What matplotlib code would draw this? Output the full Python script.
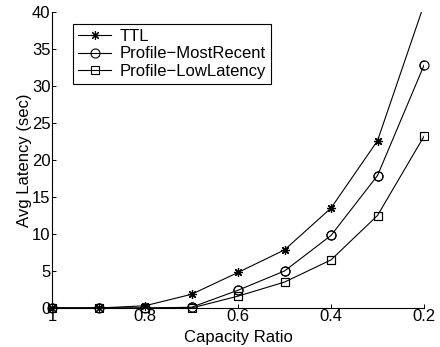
import matplotlib
matplotlib.use("Agg")
import matplotlib.pyplot as plt
import numpy as np

plt.rcParams['font.family'] = ['Liberation Sans', 'DejaVu Sans']

capacity = [1.0, 0.9, 0.8, 0.7, 0.6, 0.5, 0.4, 0.3, 0.2]
ttl = [0.0, 0.0, 0.3, 1.85, 4.8, 7.85, 13.5, 22.6, 41.0]
most_recent = [0.0, 0.0, 0.0, 0.1, 2.4, 5.0, 9.8, 17.9, 32.8]
low_latency = [0.0, 0.0, 0.0, 0.0, 1.6, 3.5, 6.5, 12.5, 23.2]
xticks = [1, 0.8, 0.6, 0.4, 0.2]
xticklabels = ['1', '0.8', '0.6', '0.4', '0.2']
yticks = [0, 5, 10, 15, 20, 25, 30, 35, 40]

fig = plt.figure(figsize=(4.4, 3.47), dpi=100)
ax = fig.add_axes([52/440, 1-308/347, 372/440, 296/347])

lw = 0.8
series = [
    (ttl, 'TTL', dict(marker=(8, 2, 0), ms=6.5, mew=0.8)),
    (most_recent, 'Profile\u2212MostRecent', dict(marker='o', ms=6.5, mfc='none', mew=0.8)),
    (low_latency, 'Profile\u2212LowLatency', dict(marker='s', ms=5.5, mfc='none', mew=0.8)),
]
for vals, lab, mk in series:
    ax.plot(capacity, vals, color='black', lw=lw, label=lab, **mk)
    v = np.array(vals, dtype=float)
    inside = v <= 40
    ax.plot(np.array(capacity)[inside], v[inside], color='black', ls='none',
            clip_on=False, zorder=3, **mk)

ax.set_xlim(1, 0.2)
ax.set_ylim(0, 40)
ax.set_xticks(xticks)
ax.set_xticklabels(xticklabels)
ax.set_yticks(yticks)
ax.spines['top'].set_visible(False)
ax.spines['right'].set_visible(False)
ax.tick_params(direction='in', length=3, labelsize=12, width=0.7, pad=1)
ax.set_xlabel('Capacity Ratio', fontsize=12, labelpad=4)
ax.set_ylabel('Avg Latency (sec)', fontsize=12, labelpad=0)

leg = ax.legend(loc='upper left', bbox_to_anchor=(21/372, 1-12/296), fontsize=12,
                frameon=True, fancybox=False, edgecolor='black', framealpha=1,
                handlelength=2.0, handletextpad=0.5, borderpad=0.3, labelspacing=0.15,
                borderaxespad=0)
leg.get_frame().set_linewidth(0.8)

fig.savefig('out.png', dpi=100)
